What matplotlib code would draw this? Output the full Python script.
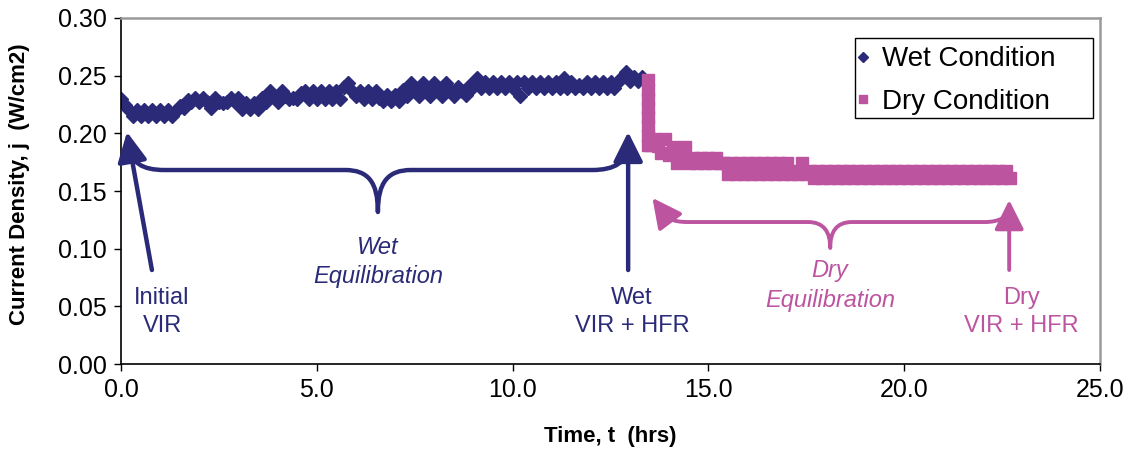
import numpy as np
import matplotlib
matplotlib.use("Agg")
import matplotlib.pyplot as plt
from matplotlib.path import Path
from matplotlib.patches import PathPatch, Rectangle

plt.rcParams['font.family'] = ['Liberation Sans', 'DejaVu Sans']

NAVY = '#2a2a78'
PINK = '#bc54a0'

# wet run, logged every 0.1 h
wet_time = np.round(np.arange(0, 13.35, 0.1), 1)
wet_j = [
    0.230, 0.225, 0.220, 0.215, 0.220, 0.215, 0.220, 0.215, 0.220, 0.215,
    0.220, 0.215, 0.220, 0.215, 0.219, 0.224, 0.222, 0.229, 0.227, 0.231,
    0.227, 0.231, 0.227, 0.222, 0.231, 0.227, 0.226, 0.227, 0.231, 0.227,
    0.231, 0.221, 0.226, 0.221, 0.226, 0.221, 0.231, 0.227, 0.237, 0.232,
    0.227, 0.237, 0.232, 0.230, 0.231, 0.230, 0.235, 0.237, 0.230, 0.237,
    0.230, 0.237, 0.230, 0.237, 0.230, 0.237, 0.230, 0.240, 0.244, 0.237,
    0.232, 0.237, 0.230, 0.237, 0.230, 0.237, 0.231, 0.228, 0.233, 0.228,
    0.233, 0.228, 0.238, 0.2325, 0.244, 0.238, 0.2325, 0.244, 0.238, 0.2325,
    0.244, 0.238, 0.2325, 0.244, 0.238, 0.2325, 0.240, 0.237, 0.2336, 0.242,
    0.240, 0.2476, 0.2397, 0.2445, 0.2397, 0.2445, 0.2397, 0.2445, 0.2397, 0.2445,
    0.2397, 0.2445, 0.2325, 0.2445, 0.2397, 0.2445, 0.2397, 0.2445, 0.2397, 0.2445,
    0.2397, 0.2445, 0.2397, 0.2476, 0.2397, 0.2445, 0.2397, 0.242, 0.2397, 0.2445,
    0.2397, 0.2445, 0.2397, 0.2445, 0.2397, 0.2445, 0.2397, 0.2445, 0.249, 0.2534,
    0.2455, 0.249, 0.2455, 0.249,
]

# dry run: fast drop right after switching, then every 0.1 h
dry_time = np.concatenate([np.full(8, 13.45), np.round(np.arange(13.5, 22.75, 0.1), 1)])
dry_j = [
    0.246, 0.238, 0.230, 0.222, 0.214, 0.206, 0.198, 0.190,
    0.190, 0.195, 0.189, 0.183, 0.195,
    0.181, 0.188, 0.174, 0.181, 0.188, 0.174, 0.1784, 0.174, 0.1784, 0.174,
    0.1784, 0.174, 0.1784, 0.174, 0.1741, 0.1649, 0.1741, 0.1649, 0.1741, 0.1649,
    0.1741, 0.1649, 0.1741, 0.1649, 0.1741, 0.1649, 0.1741, 0.1649, 0.1741, 0.1649,
    0.1741, 0.1649, 0.167, 0.1649, 0.1741, 0.1649, 0.167, 0.161, 0.167, 0.161,
    0.167, 0.161, 0.167, 0.161, 0.167, 0.161, 0.167, 0.161, 0.167, 0.161,
    0.167, 0.161, 0.167, 0.161, 0.167, 0.161, 0.167, 0.161, 0.167, 0.161,
    0.167, 0.161, 0.167, 0.161, 0.167, 0.161, 0.167, 0.161, 0.167, 0.161,
    0.167, 0.161, 0.167, 0.161, 0.167, 0.161, 0.167, 0.161, 0.167, 0.161,
    0.167, 0.161, 0.167, 0.161, 0.167, 0.161, 0.167, 0.161,
]

x_ticks = [0, 5, 10, 15, 20, 25]
y_ticks = [0.00, 0.05, 0.10, 0.15, 0.20, 0.25, 0.30]

fig = plt.figure(figsize=(11.35, 4.58), dpi=100)
ax = fig.add_axes([0.1066, 0.2052, 0.8626, 0.7555])

ax.plot(wet_time, wet_j, ls='none', marker='D', ms=7.2, color=NAVY,
        mec=NAVY, label='Wet Condition')
ax.plot(dry_time, dry_j, ls='none', marker='s', ms=8.2, color=PINK,
        mec=PINK, label='Dry Condition')

ax.set_xlim(0, 25)
ax.set_ylim(0, 0.30)
ax.set_xticks(x_ticks)
ax.set_yticks(y_ticks)
ax.set_xticklabels(['%.1f' % v for v in x_ticks])
ax.set_yticklabels(['%.2f' % v for v in y_ticks])
ax.tick_params(direction='out', length=5, width=1, labelsize=18, pad=5)

for s in ['left', 'bottom']:
    ax.spines[s].set_color('black')
    ax.spines[s].set_linewidth(1.2)
for s in ['top', 'right']:
    ax.spines[s].set_color('#9a9a9a')
    ax.spines[s].set_linewidth(1.8)

ax.set_xlabel('Time, t  (hrs)', fontsize=16, fontweight='bold')
ax.set_ylabel('Current Density, j  (W/cm2)', fontsize=16, fontweight='bold')
ax.xaxis.set_label_coords(0.5, -0.18)
ax.yaxis.set_label_coords(-0.093, 0.52)

# legend box drawn by hand so the right margin can be wider than the left
ax.add_patch(Rectangle((0.7497, 0.711), 0.2431, 0.2312, transform=ax.transAxes,
                       fill=True, fc='white', ec='black', lw=1.0, zorder=4))
leg = ax.legend(loc='upper left', bbox_to_anchor=(0.7508, 0.918), borderaxespad=0,
                frameon=False, fontsize=20, handlelength=0.5, markerscale=0.7,
                handletextpad=0.45, borderpad=0, labelspacing=0.6)
leg.set_zorder(5)


def brace(pts, color, lw):
    # first point is a moveto, the rest come in cubic triples or single line-to points
    codes = [Path.MOVETO]
    verts = [pts[0]]
    for seg in pts[1:]:
        if len(seg) == 3:
            codes += [Path.CURVE4] * 3
            verts += list(seg)
        else:
            codes.append(Path.LINETO)
            verts.append(seg[0])
    ax.add_patch(PathPatch(Path(verts, codes), fill=False, ec=color, lw=lw,
                           capstyle='butt', joinstyle='round'))


def arrow(tip, tail, color, lw):
    ax.annotate('', xy=tip, xytext=tail,
                arrowprops=dict(arrowstyle='-|>,head_length=0.9,head_width=0.45',
                                color=color, lw=lw, shrinkA=0, shrinkB=0,
                                mutation_scale=20))


# wet brace and arrows
brace([(0.204, 0.1899),
       ((0.255, 0.1743), (0.536, 0.1682), (1.12, 0.1682)),
       ((5.72, 0.1682),),
       ((6.31, 0.1682), (6.56, 0.1578), (6.56, 0.1318)),
       ((6.56, 0.1578), (6.82, 0.1682), (7.41, 0.1682)),
       ((12.03, 0.1682),),
       ((12.61, 0.1682), (12.93, 0.1751), (12.95, 0.1899))], NAVY, 3.2)
arrow((0.153, 0.2012), (0.79, 0.0815), NAVY, 3.2)
arrow((12.95, 0.2012), (12.95, 0.0815), NAVY, 3.2)

# dry brace and arrows
brace([(13.82, 0.1327),
       ((13.92, 0.1266), (14.07, 0.1231), (14.48, 0.1231)),
       ((17.54, 0.1231),),
       ((17.95, 0.1231), (18.11, 0.1145), (18.11, 0.1006)),
       ((18.11, 0.1145), (18.26, 0.1231), (18.67, 0.1231)),
       ((22.06, 0.1231),),
       ((22.45, 0.1231), (22.68, 0.1283), (22.68, 0.1353))], PINK, 2.8)
arrow((13.57, 0.1440), (13.84, 0.1318), PINK, 2.8)
arrow((22.68, 0.1422), (22.68, 0.0815), PINK, 2.8)

label_kw = dict(fontsize=17, ha='center', va='center', linespacing=1.35)
ax.text(1.05, 0.0451, 'Initial\nVIR', color=NAVY, **label_kw)
ax.text(6.56, 0.0884, 'Wet\nEquilibration', color=NAVY, style='italic', **label_kw)
ax.text(13.05, 0.0451, 'Wet\nVIR + HFR', color=NAVY, **label_kw)
ax.text(18.1, 0.0681, 'Dry\nEquilibration', color=PINK, style='italic', **label_kw)
ax.text(23.0, 0.0451, 'Dry\nVIR + HFR', color=PINK, **label_kw)

fig.savefig('out.png', dpi=100)
